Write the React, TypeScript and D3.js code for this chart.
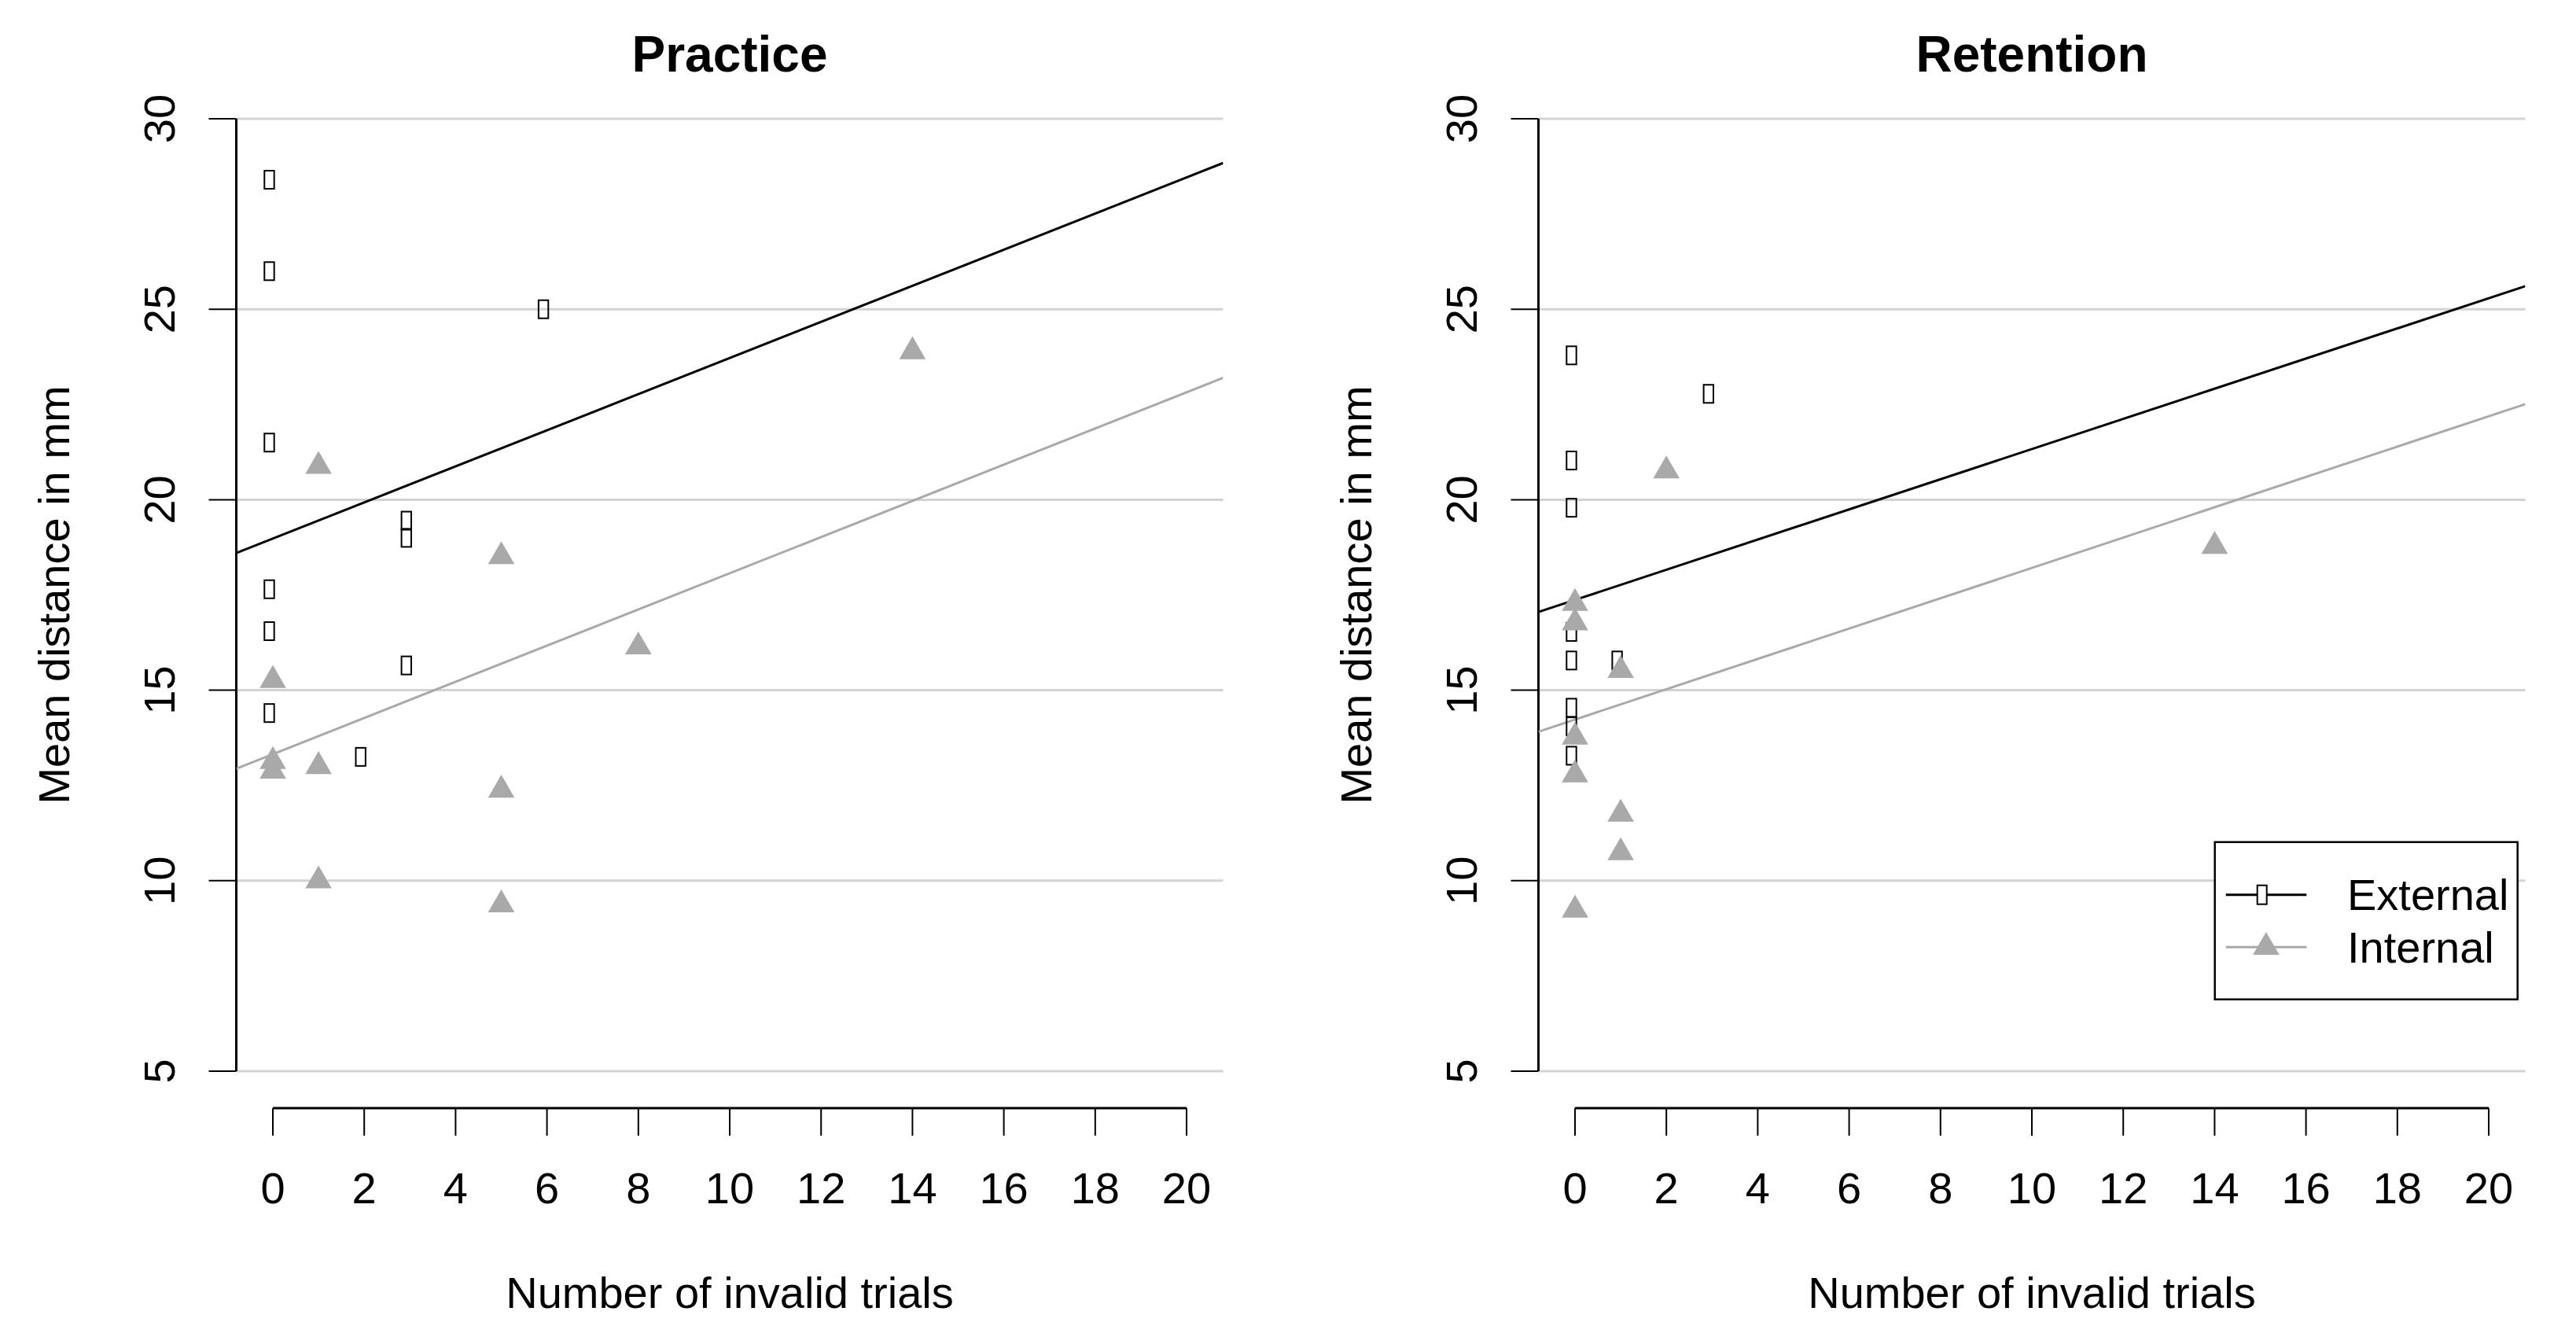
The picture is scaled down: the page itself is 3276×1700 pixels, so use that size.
import React from "react";
import * as d3 from "d3";

// ---- Data ----
const panelTitles = ["Practice", "Retention"];
const xTicks = [0, 2, 4, 6, 8, 10, 12, 14, 16, 18, 20];
const yTicks = [5, 10, 15, 20, 25, 30];
const seriesNames = ["External", "Internal"];

// Practice
const practiceExternalX = [0, 0, 0, 0, 0, 0, 3, 3, 3, 6, 2];
const practiceExternalY = [28.4, 26.0, 21.5, 17.65, 16.55, 14.4, 19.45, 19.0, 15.65, 25.0, 13.25];
const practiceInternalX = [0, 0, 0, 1, 1, 1, 5, 5, 5, 8, 14];
const practiceInternalY = [15.26, 13.13, 12.88, 20.88, 13.0, 10.0, 18.51, 12.38, 9.37, 16.14, 23.89];
const practiceExternalFit = [18.98, 0.474]; // intercept, slope
const practiceInternalFit = [13.32, 0.475];

// Retention
const retentionExternalX = [0, 0, 0, 0, 0, 0, 0, 0, 3, 1];
const retentionExternalY = [23.79, 21.03, 19.79, 16.53, 15.78, 14.54, 14.05, 13.28, 22.78, 15.78];
const retentionInternalX = [0, 0, 0, 0, 0, 1, 1, 1, 2, 14];
const retentionInternalY = [17.28, 16.77, 13.77, 12.78, 9.23, 15.52, 11.75, 10.74, 20.76, 18.78];
const retentionExternalFit = [17.37, 0.396];
const retentionInternalFit = [14.23, 0.398];

const panels = [
  {
    title: panelTitles[0],
    ext: practiceExternalX.map((x, i) => [x, practiceExternalY[i]]),
    int: practiceInternalX.map((x, i) => [x, practiceInternalY[i]]),
    extFit: practiceExternalFit,
    intFit: practiceInternalFit,
    left: 300.5,
    legend: false,
  },
  {
    title: panelTitles[1],
    ext: retentionExternalX.map((x, i) => [x, retentionExternalY[i]]),
    int: retentionInternalX.map((x, i) => [x, retentionInternalY[i]]),
    extFit: retentionExternalFit,
    intFit: retentionInternalFit,
    left: 1956.5,
    legend: true,
  },
];

const W = 3276;
const H = 1700;
const FONT = "'Liberation Sans', Arial, Helvetica, sans-serif";
const PLOT_W = 1255;
const TOP = 102.6;
const BOTTOM = 1410.4;
const GRID = "#d3d3d3";
const GREY = "#a9a9a9";

const tri = d3.symbol().type(d3.symbolTriangle).size(489)();

function ExtMark({ cx, cy }: { cx: number; cy: number }) {
  return (
    <rect x={cx - 4.5 - 6.2} y={cy - 11.5} width={12.4} height={23} fill="none" stroke="#000" strokeWidth={2} />
  );
}

function Panel({ p }: { p: any }) {
  const x = d3.scaleLinear().domain([-0.8, 20.8]).range([p.left, p.left + PLOT_W]);
  const y = d3.scaleLinear().domain([4, 31]).range([BOTTOM, TOP]);
  const axisX = p.left;
  const [x0, x1] = x.domain();
  const fitLine = (fit: number[]) =>
    d3.line()([
      [x(x0), y(fit[0] + fit[1] * x0)],
      [x(x1), y(fit[0] + fit[1] * x1)],
    ]) as string;
  const cxMid = p.left + PLOT_W / 2;
  const clipId = "clip-" + p.title;

  return (
    <g>
      <defs>
        <clipPath id={clipId}>
          <rect x={p.left} y={TOP} width={PLOT_W} height={BOTTOM - TOP} />
        </clipPath>
      </defs>
      {/* gridlines */}
      {yTicks.map((t) => (
        <line key={"g" + t} x1={axisX} x2={p.left + PLOT_W} y1={y(t)} y2={y(t)} stroke={GRID} strokeWidth={3} />
      ))}
      {/* y axis */}
      <line x1={axisX} x2={axisX} y1={y(5)} y2={y(30)} stroke="#000" strokeWidth={3} />
      {yTicks.map((t) => (
        <g key={"yt" + t}>
          <line x1={axisX - 35} x2={axisX} y1={y(t)} y2={y(t)} stroke="#000" strokeWidth={2} />
          <text
            transform={`translate(${axisX - 79},${y(t)}) rotate(-90)`}
            textAnchor="middle"
            fontSize={56}
            fontFamily={FONT}
          >
            {t}
          </text>
        </g>
      ))}
      <text
        transform={`translate(${axisX - 212.4},${(TOP + BOTTOM) / 2}) rotate(-90)`}
        textAnchor="middle"
        fontSize={56}
        fontFamily={FONT}
      >
        Mean distance in mm
      </text>
      {/* x axis */}
      <line x1={x(0)} x2={x(20)} y1={BOTTOM - 1.5} y2={BOTTOM - 1.5} stroke="#000" strokeWidth={3} />
      {xTicks.map((t) => (
        <g key={"xt" + t}>
          <line x1={x(t)} x2={x(t)} y1={BOTTOM - 1.5} y2={1444} stroke="#000" strokeWidth={2} />
          <text x={x(t)} y={1530} textAnchor="middle" fontSize={56} fontFamily={FONT}>
            {t}
          </text>
        </g>
      ))}
      <text x={cxMid} y={1663} textAnchor="middle" fontSize={56} fontFamily={FONT}>
        Number of invalid trials
      </text>
      {/* title */}
      <text x={cxMid} y={90.7} textAnchor="middle" fontSize={64} fontWeight="bold" fontFamily={FONT}>
        {p.title}
      </text>
      {/* regression lines */}
      <g clipPath={`url(#${clipId})`}>
        <path d={fitLine(p.extFit)} stroke="#000" strokeWidth={3} fill="none" />
        <path d={fitLine(p.intFit)} stroke={GREY} strokeWidth={3} fill="none" />
      </g>
      {/* points */}
      {p.ext.map((d: number[], i: number) => (
        <ExtMark key={"e" + i} cx={x(d[0])} cy={y(d[1])} />
      ))}
      {p.int.map((d: number[], i: number) => (
        <path key={"i" + i} d={tri as string} transform={`translate(${x(d[0])},${y(d[1])})`} fill={GREY} />
      ))}
      {p.legend && (
        <g>
          <rect x={2816.7} y={1070.7} width={385} height={200} fill="#fff" stroke="#000" strokeWidth={2.5} />
          <line x1={2830.7} x2={2933.3} y1={1137.7} y2={1137.7} stroke="#000" strokeWidth={3} />
          <rect x={2876.7 - 6} y={1137.7 - 12} width={12} height={24} fill="#fff" stroke="#000" strokeWidth={2} />
          <text x={2985} y={1157.3} fontSize={56} fontFamily={FONT}>
            {seriesNames[0]}
          </text>
          <line x1={2830.7} x2={2933.3} y1={1204.3} y2={1204.3} stroke={GREY} strokeWidth={3} />
          <path d={tri as string} transform={`translate(${2881.9},${1204.3})`} fill={GREY} />
          <text x={2985} y={1224} fontSize={56} fontFamily={FONT}>
            {seriesNames[1]}
          </text>
        </g>
      )}
    </g>
  );
}

export default function App() {
  return (
    <svg
      width={W}
      height={H}
      viewBox={`0 0 ${W} ${H}`}
      style={{ position: "absolute", left: 0, top: 0, display: "block", background: "#fff" }}
    >
      <rect x={0} y={0} width={W} height={H} fill="#fff" />
      {panels.map((p) => (
        <Panel key={p.title} p={p} />
      ))}
    </svg>
  );
}
